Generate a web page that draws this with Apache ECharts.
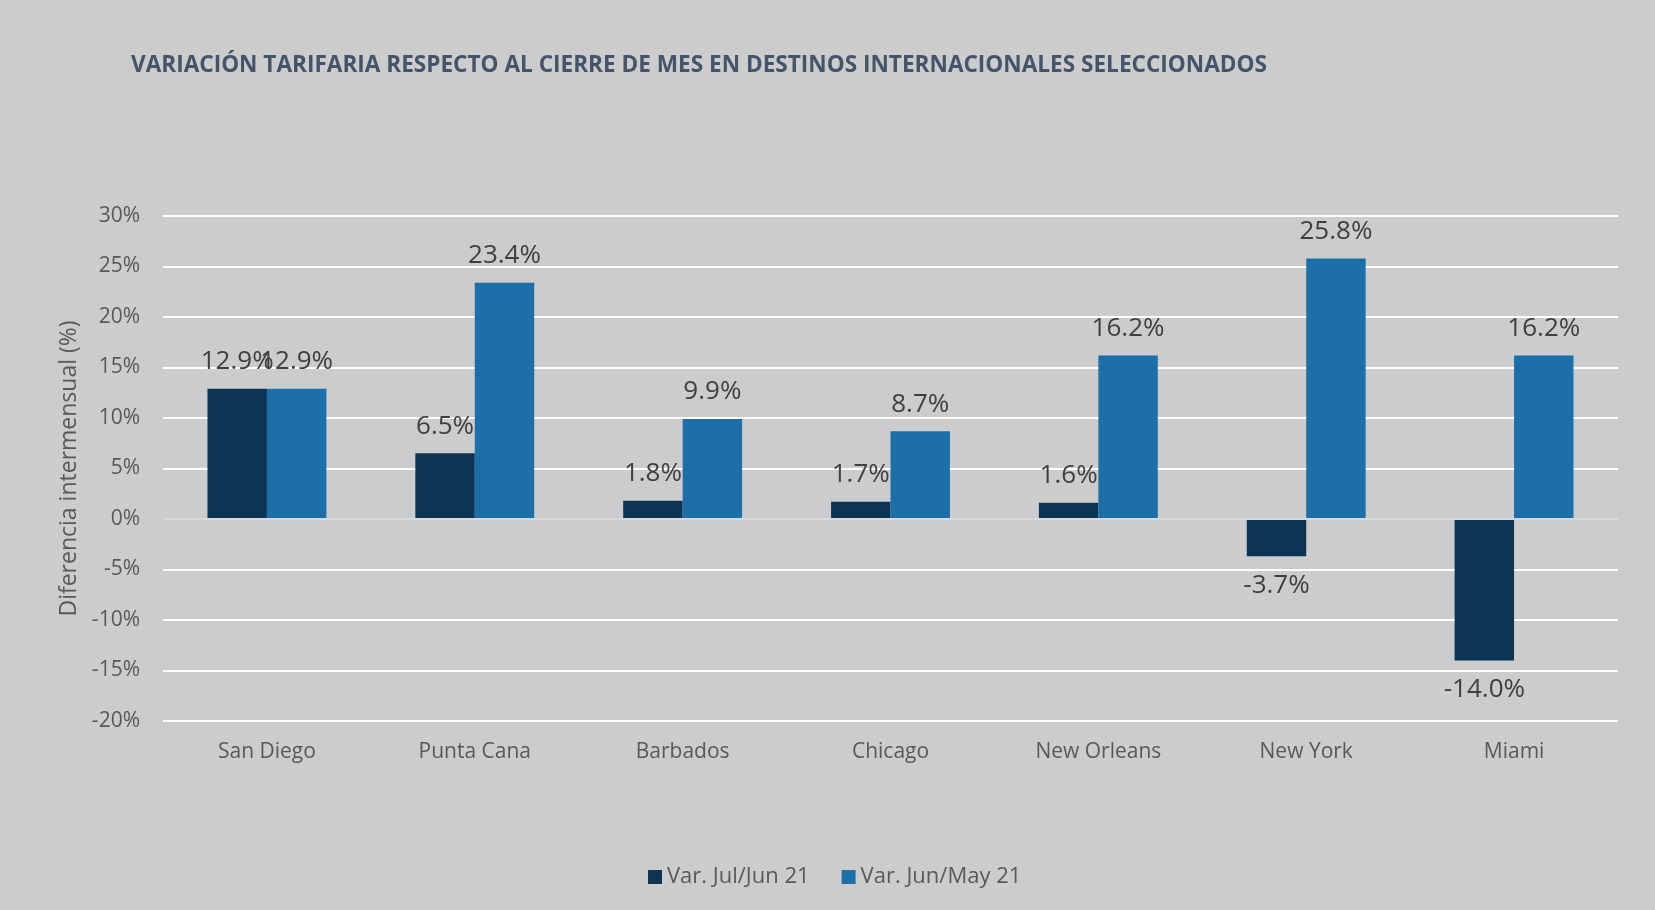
<!DOCTYPE html>
<html>
<head>
<meta charset="utf-8">
<script src="https://cdn.jsdelivr.net/npm/echarts@6/dist/echarts.min.js"></script>
<style>
  html, body { margin: 0; padding: 0; background: #cccccc; }
  #chart { width: 1655px; height: 910px; }
</style>
</head>
<body>
<div id="chart"></div>
<script>
// Destinos y variaciones tarifarias (%)
const destinos = ['San Diego', 'Punta Cana', 'Barbados', 'Chicago', 'New Orleans', 'New York', 'Miami'];
const varJulJun = [12.9, 6.5, 1.8, 1.7, 1.6, -3.7, -14.0];
const varJunMay = [12.9, 23.4, 9.9, 8.7, 16.2, 25.8, 16.2];
const serieNombres = ['Var. Jul/Jun 21', 'Var. Jun/May 21'];
const yMin = -20, yMax = 30, yPaso = 5;

const FONT = 'Open Sans';

// Etiqueta arriba para valores positivos, abajo para negativos
function conEtiquetas(valores) {
  return valores.map(v => ({
    value: v,
    label: { position: v < 0 ? 'bottom' : 'top', distance: v < 0 ? 16 : 14 }
  }));
}

const chart = echarts.init(document.getElementById('chart'), null, { renderer: 'canvas' });

const etiqueta = {
  show: true,
  fontFamily: FONT,
  fontSize: 26,
  color: '#404040',
  formatter: p => p.value.toFixed(1) + '%'
};

chart.setOption({
  backgroundColor: '#cccccc',
  animation: false,
  title: {
    text: 'VARIACIÓN TARIFARIA RESPECTO AL CIERRE DE MES EN DESTINOS INTERNACIONALES SELECCIONADOS',
    left: 126,
    top: 49,
    textStyle: { fontFamily: FONT, fontSize: 22.6, fontWeight: 'bold', color: '#44546a' }
  },
  legend: {
    data: serieNombres,
    left: 643,
    top: 861,
    itemWidth: 14,
    itemHeight: 14,
    itemGap: 32,
    icon: 'rect',
    textStyle: { fontFamily: FONT, fontSize: 22, color: '#595959' }
  },
  grid: { left: 163, right: 37, top: 216, bottom: 189 },
  xAxis: {
    type: 'category',
    data: destinos,
    axisLine: { show: false },
    axisTick: { show: false },
    axisLabel: { fontFamily: FONT, fontSize: 21, color: '#595959', margin: 21 }
  },
  yAxis: {
    type: 'value',
    min: yMin,
    max: yMax,
    interval: yPaso,
    name: 'Diferencia intermensual (%)',
    nameLocation: 'middle',
    nameGap: 82,
    nameTextStyle: { fontFamily: FONT, fontSize: 23, color: '#595959' },
    axisLine: { show: false },
    axisTick: { show: false },
    axisLabel: { fontFamily: FONT, fontSize: 21, color: '#595959', margin: 23, formatter: '{value}%' },
    splitLine: { lineStyle: { color: '#ffffff', width: 2 } }
  },
  series: [
    {
      name: serieNombres[0],
      type: 'bar',
      data: conEtiquetas(varJulJun),
      barWidth: '28.6%',
      barGap: '0%',
      itemStyle: { color: '#0e3453' },
      label: etiqueta,
      markLine: {
        silent: true,
        symbol: 'none',
        label: { show: false },
        lineStyle: { color: '#d9d9d9', width: 2, type: 'solid' },
        data: [{ yAxis: 0 }]
      }
    },
    {
      name: serieNombres[1],
      type: 'bar',
      data: conEtiquetas(varJunMay),
      barWidth: '28.6%',
      barGap: '0%',
      itemStyle: { color: '#1d6fa9' },
      label: etiqueta
    }
  ]
});
</script>
</body>
</html>
